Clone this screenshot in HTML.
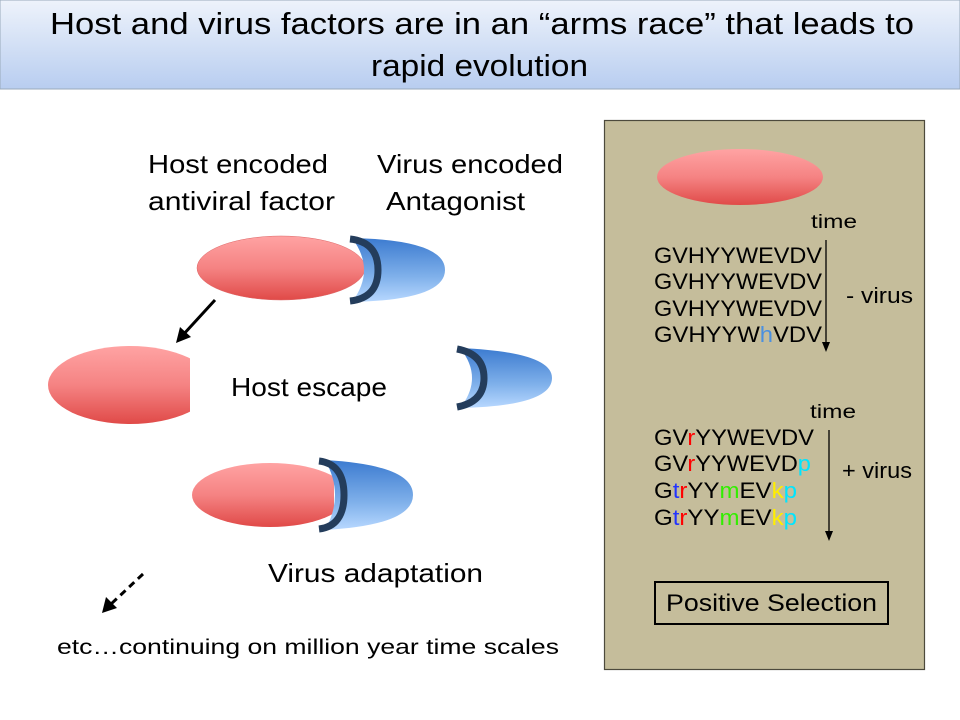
<!DOCTYPE html>
<html><head><meta charset="utf-8"><style>html,body{margin:0;padding:0;background:#fff}svg{display:block}</style></head>
<body>
<svg width="960" height="720" viewBox="0 0 960 720" xmlns="http://www.w3.org/2000/svg" font-family="Liberation Sans, sans-serif">
<defs>
<linearGradient id="tg" x1="0" y1="0" x2="0" y2="1"><stop offset="0" stop-color="#eef3fb"/><stop offset="1" stop-color="#b8cdf0"/></linearGradient>
<linearGradient id="rg" x1="0" y1="0" x2="0" y2="1"><stop offset="0" stop-color="#ffa3a3"/><stop offset="0.5" stop-color="#f58383"/><stop offset="1" stop-color="#e04a48"/></linearGradient>
<linearGradient id="bg" x1="0" y1="0" x2="0" y2="1"><stop offset="0" stop-color="#3c7bd0"/><stop offset="0.6" stop-color="#7fb0ea"/><stop offset="1" stop-color="#b8d8ff"/></linearGradient>
<clipPath id="c2"><rect x="0" y="300" width="190" height="140"/></clipPath>
<clipPath id="c3"><rect x="150" y="450" width="184" height="90"/></clipPath>
</defs>
<rect x="0" y="0" width="960" height="89" fill="url(#tg)" stroke="#9ab" stroke-width="1"/>
<text x="50" y="34" font-size="31" textLength="864" lengthAdjust="spacingAndGlyphs">Host and virus factors are in an “arms race” that leads to</text>
<text x="371" y="76" font-size="31" textLength="217" lengthAdjust="spacingAndGlyphs">rapid evolution</text>

<g font-size="26">
<text x="148" y="173" textLength="180" lengthAdjust="spacingAndGlyphs">Host encoded</text>
<text x="148" y="210" textLength="187" lengthAdjust="spacingAndGlyphs">antiviral factor</text>
<text x="377" y="173" textLength="186" lengthAdjust="spacingAndGlyphs">Virus encoded</text>
<text x="386" y="210" textLength="139" lengthAdjust="spacingAndGlyphs">Antagonist</text>
<text x="231" y="396" textLength="156" lengthAdjust="spacingAndGlyphs">Host escape</text>
<text x="268" y="582" textLength="215" lengthAdjust="spacingAndGlyphs">Virus adaptation</text>
</g>
<text x="57" y="654" font-size="21" textLength="502" lengthAdjust="spacingAndGlyphs">etc…continuing on million year time scales</text>

<ellipse cx="281" cy="268" rx="84" ry="32" fill="url(#rg)" stroke="#d66" stroke-width="0.5"/>
<path d="M352,238 Q445,240 445,270 Q445,300 352,302 Q376,270 352,238 z" fill="url(#bg)"/>
<path d="M350,239 Q378,242 378,270 Q378,298 350,301" fill="none" stroke="#243d5c" stroke-width="7"/>
<line x1="215" y1="300" x2="182" y2="336" stroke="#000" stroke-width="3"/>
<path d="M176,343 L180,327 L191,337 z" fill="#000"/>

<ellipse cx="130" cy="385" rx="82" ry="39" fill="url(#rg)" clip-path="url(#c2)"/>
<path d="M460,348 Q552,352 552,378 Q552,406 460,408 Q484,378 460,348 z" fill="url(#bg)"/>
<path d="M457,349 Q484,354 484,378 Q484,402 457,407" fill="none" stroke="#243d5c" stroke-width="7"/>

<ellipse cx="270" cy="495" rx="78" ry="32" fill="url(#rg)" clip-path="url(#c3)"/>
<path d="M325,460 Q413,465 413,495 Q413,525 325,530 Q345,495 325,460 z" fill="url(#bg)"/>
<path d="M319,461 Q344,464 344,495 Q344,526 319,529" fill="none" stroke="#243d5c" stroke-width="7"/>

<line x1="143" y1="574" x2="110" y2="605" stroke="#000" stroke-width="3" stroke-dasharray="7,5"/>
<path d="M102,613 L106,597 L117,608 z" fill="#000"/>

<rect x="604.5" y="120.5" width="320" height="549" fill="#c5bd9b" stroke="#4d4a3c" stroke-width="1.2"/>
<ellipse cx="740" cy="177" rx="83" ry="28" fill="url(#rg)"/>
<text x="811" y="228" font-size="19" textLength="46" lengthAdjust="spacingAndGlyphs">time</text>
<g font-size="22">
<text x="654" y="263" textLength="168" lengthAdjust="spacingAndGlyphs">GVHYYWEVDV</text>
<text x="654" y="289" textLength="168" lengthAdjust="spacingAndGlyphs">GVHYYWEVDV</text>
<text x="654" y="316" textLength="168" lengthAdjust="spacingAndGlyphs">GVHYYWEVDV</text>
<text x="654" y="342" textLength="168" lengthAdjust="spacingAndGlyphs">GVHYYW<tspan fill="#4a90e0">h</tspan>VDV</text>
</g>
<line x1="826" y1="240" x2="826" y2="343" stroke="#000" stroke-width="1.3"/>
<path d="M822,342 L830,342 L826,352 z" fill="#000"/>
<text x="846" y="303" font-size="22" textLength="67" lengthAdjust="spacingAndGlyphs">- virus</text>

<text x="810" y="418" font-size="19" textLength="46" lengthAdjust="spacingAndGlyphs">time</text>
<g font-size="22">
<text x="654" y="445" textLength="160" lengthAdjust="spacingAndGlyphs">GV<tspan fill="#ff0000">r</tspan>YYWEVDV</text>
<text x="654" y="471" textLength="157" lengthAdjust="spacingAndGlyphs">GV<tspan fill="#ff0000">r</tspan>YYWEVD<tspan fill="#00e5ff">p</tspan></text>
<text x="654" y="498" textLength="143" lengthAdjust="spacingAndGlyphs">G<tspan fill="#2233ff">t</tspan><tspan fill="#ff0000">r</tspan>YY<tspan fill="#33ee00">m</tspan>EV<tspan fill="#ffee00">k</tspan><tspan fill="#00e5ff">p</tspan></text>
<text x="654" y="525" textLength="143" lengthAdjust="spacingAndGlyphs">G<tspan fill="#2233ff">t</tspan><tspan fill="#ff0000">r</tspan>YY<tspan fill="#33ee00">m</tspan>EV<tspan fill="#ffee00">k</tspan><tspan fill="#00e5ff">p</tspan></text>
</g>
<line x1="829" y1="430" x2="829" y2="532" stroke="#000" stroke-width="1.3"/>
<path d="M825,531 L833,531 L829,541 z" fill="#000"/>
<text x="842" y="478" font-size="22" textLength="70" lengthAdjust="spacingAndGlyphs">+ virus</text>

<rect x="655" y="582" width="233" height="42" fill="none" stroke="#000" stroke-width="2"/>
<text x="666" y="611" font-size="24" textLength="211" lengthAdjust="spacingAndGlyphs">Positive Selection</text>
</svg>
</body></html>
